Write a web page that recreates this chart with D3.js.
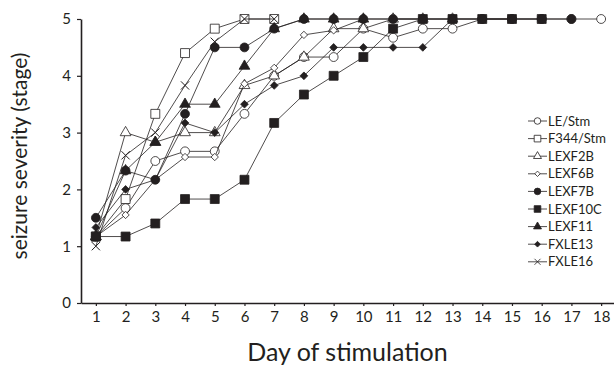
<!DOCTYPE html>
<html>
<head>
<meta charset="utf-8">
<script src="https://cdn.jsdelivr.net/npm/d3@7"></script>
<style>
  body { margin: 0; background: #fff; }
  svg { display: block; }
  text { font-family: Lato, "Open Sans", sans-serif; fill: #231f20; }
</style>
</head>
<body>
<div id="chart"></div>
<script>
// days on the x axis and stage ticks on the y axis
const days = [1, 2, 3, 4, 5, 6, 7, 8, 9, 10, 11, 12, 13, 14, 15, 16, 17, 18];
const stageTicks = [0, 1, 2, 3, 4, 5];

// mean seizure stage per day (series start at day 1)
const leStm   = [1.17, 1.67, 2.5, 2.67, 2.67, 3.33, 4.0, 4.33, 4.33, 4.83, 4.67, 4.83, 4.83, 5, 5, 5, 5, 5];
const f344Stm = [1.17, 1.83, 3.33, 4.4, 4.83, 5, 5];
const lexf2b  = [1.17, 3.0, 2.83, 3.0, 3.0, 3.83, 4.0, 4.33, 4.83, 4.83, 5, 5, 5];
const lexf6b  = [1.17, 1.55, 2.17, 2.57, 2.57, 3.86, 4.14, 4.72, 4.8, 5, 5, 5];
const lexf7b  = [1.5, 2.33, 2.17, 3.33, 4.5, 4.5, 4.83, 5, 5, 5, 5, 5, 5, 5, 5, 5, 5];
const lexf10c = [1.17, 1.17, 1.4, 1.83, 1.83, 2.17, 3.17, 3.67, 4.0, 4.33, 4.83, 5, 5, 5, 5, 5];
const lexf11  = [1.17, 2.33, 2.83, 3.5, 3.5, 4.17, 4.83, 5, 5, 5];
const fxle13  = [1.33, 2.0, 2.17, 3.17, 3.0, 3.5, 3.83, 4.0, 4.5, 4.5, 4.5, 4.5, 5, 5, 5];
const fxle16  = [1.0, 2.6, 3.0, 3.83, 4.6, 5, 5];

const strainNames = ["LE/Stm", "F344/Stm", "LEXF2B", "LEXF6B", "LEXF7B", "LEXF10C", "LEXF11", "FXLE13", "FXLE16"];
const strainValues = [leStm, f344Stm, lexf2b, lexf6b, lexf7b, lexf10c, lexf11, fxle13, fxle16];

const ink = "#231f20";
const width = 614, height = 367;

// marker style per strain
const markers = [
    { type: d3.symbolCircle, size: 62, filled: false },
    { type: d3.symbolSquare, size: 80, filled: false },
    { type: d3.symbolTriangle, size: 50, filled: false },
    { type: d3.symbolDiamond2, size: 34, filled: false },
    { type: d3.symbolCircle, size: 62, filled: true },
    { type: d3.symbolSquare, size: 80, filled: true },
    { type: d3.symbolTriangle, size: 50, filled: true },
    { type: d3.symbolDiamond2, size: 38, filled: true },
    { type: d3.symbolX, size: 46, filled: false, stroke: true }
];

const series = strainNames.map((name, i) => ({
    name: name,
    marker: markers[i],
    points: strainValues[i].map((v, j) => ({ day: days[j], stage: v }))
}));

const svg = d3.select("#chart")
    .append("svg")
    .attr("width", width)
    .attr("height", height)
    .attr("viewBox", `0 0 ${width} ${height}`);

const x = d3.scaleLinear().domain([0.5, 18.5]).range([81, 616]);
const y = d3.scaleLinear().domain([0, 5]).range([303, 19]);

// axes
const yAxis = svg.append("g")
    .attr("transform", `translate(${x(0.5)},0)`)
    .call(d3.axisLeft(y).tickValues(stageTicks).tickFormat(d3.format("d"))
        .tickSize(4).tickSizeOuter(0).tickPadding(6));

const xAxis = svg.append("g")
    .attr("transform", `translate(0,${y(0)})`)
    .call(d3.axisBottom(x).tickValues(days).tickFormat(d3.format("d"))
        .tickSize(3).tickSizeOuter(0).tickPadding(5));

[yAxis, xAxis].forEach(g => {
    g.select(".domain").attr("stroke", ink).attr("stroke-width", 1.6);
    g.selectAll(".tick line").attr("stroke", ink).attr("stroke-width", 1.2);
    g.selectAll(".tick text")
        .style("font-family", "Lato, sans-serif")
        .style("font-size", "15px")
        .attr("fill", ink);
});

// axis titles
svg.append("text")
    .attr("transform", `translate(27,156) rotate(-90)`)
    .attr("text-anchor", "middle")
    .style("font-size", "21px")
    .text("seizure severity (stage)");

svg.append("text")
    .attr("x", (x(0.5) + width) / 2)
    .attr("y", 361)
    .attr("text-anchor", "middle")
    .style("font-size", "25px")
    .text("Day of stimulation");

// lines
const line = d3.line().x(d => x(d.day)).y(d => y(d.stage));

const groups = svg.selectAll(".strain")
    .data(series)
    .enter().append("g")
    .attr("class", "strain");

groups.append("path")
    .attr("d", d => line(d.points))
    .attr("fill", "none")
    .attr("stroke", ink)
    .attr("stroke-width", 0.8);

// markers
groups.each(function (s) {
    const sym = d3.symbol().type(s.marker.type).size(s.marker.size);
    d3.select(this).selectAll(".mark")
        .data(s.points)
        .enter().append("path")
        .attr("class", "mark")
        .attr("transform", d => `translate(${x(d.day)},${y(d.stage)})`)
        .attr("d", sym)
        .attr("fill", s.marker.stroke ? "none" : (s.marker.filled ? ink : "#fff"))
        .attr("stroke", ink)
        .attr("stroke-width", s.marker.stroke ? 1 : 0.8);
});

// legend
const legend = svg.append("g")
    .attr("transform", "translate(528,121)");

const entries = legend.selectAll(".entry")
    .data(series)
    .enter().append("g")
    .attr("class", "entry")
    .attr("transform", (d, i) => `translate(0,${i * 17.6})`);

entries.append("line")
    .attr("x1", 0).attr("x2", 19)
    .attr("stroke", ink)
    .attr("stroke-width", 0.8);

entries.append("path")
    .attr("transform", "translate(9.5,0)")
    .attr("d", d => d3.symbol().type(d.marker.type).size(d.marker.size * 0.55)())
    .attr("fill", d => d.marker.stroke ? "none" : (d.marker.filled ? ink : "#fff"))
    .attr("stroke", ink)
    .attr("stroke-width", 0.8);

entries.append("text")
    .attr("x", 20)
    .attr("dy", "0.36em")
    .style("font-size", "13px")
    .text(d => d.name);
</script>
</body>
</html>
